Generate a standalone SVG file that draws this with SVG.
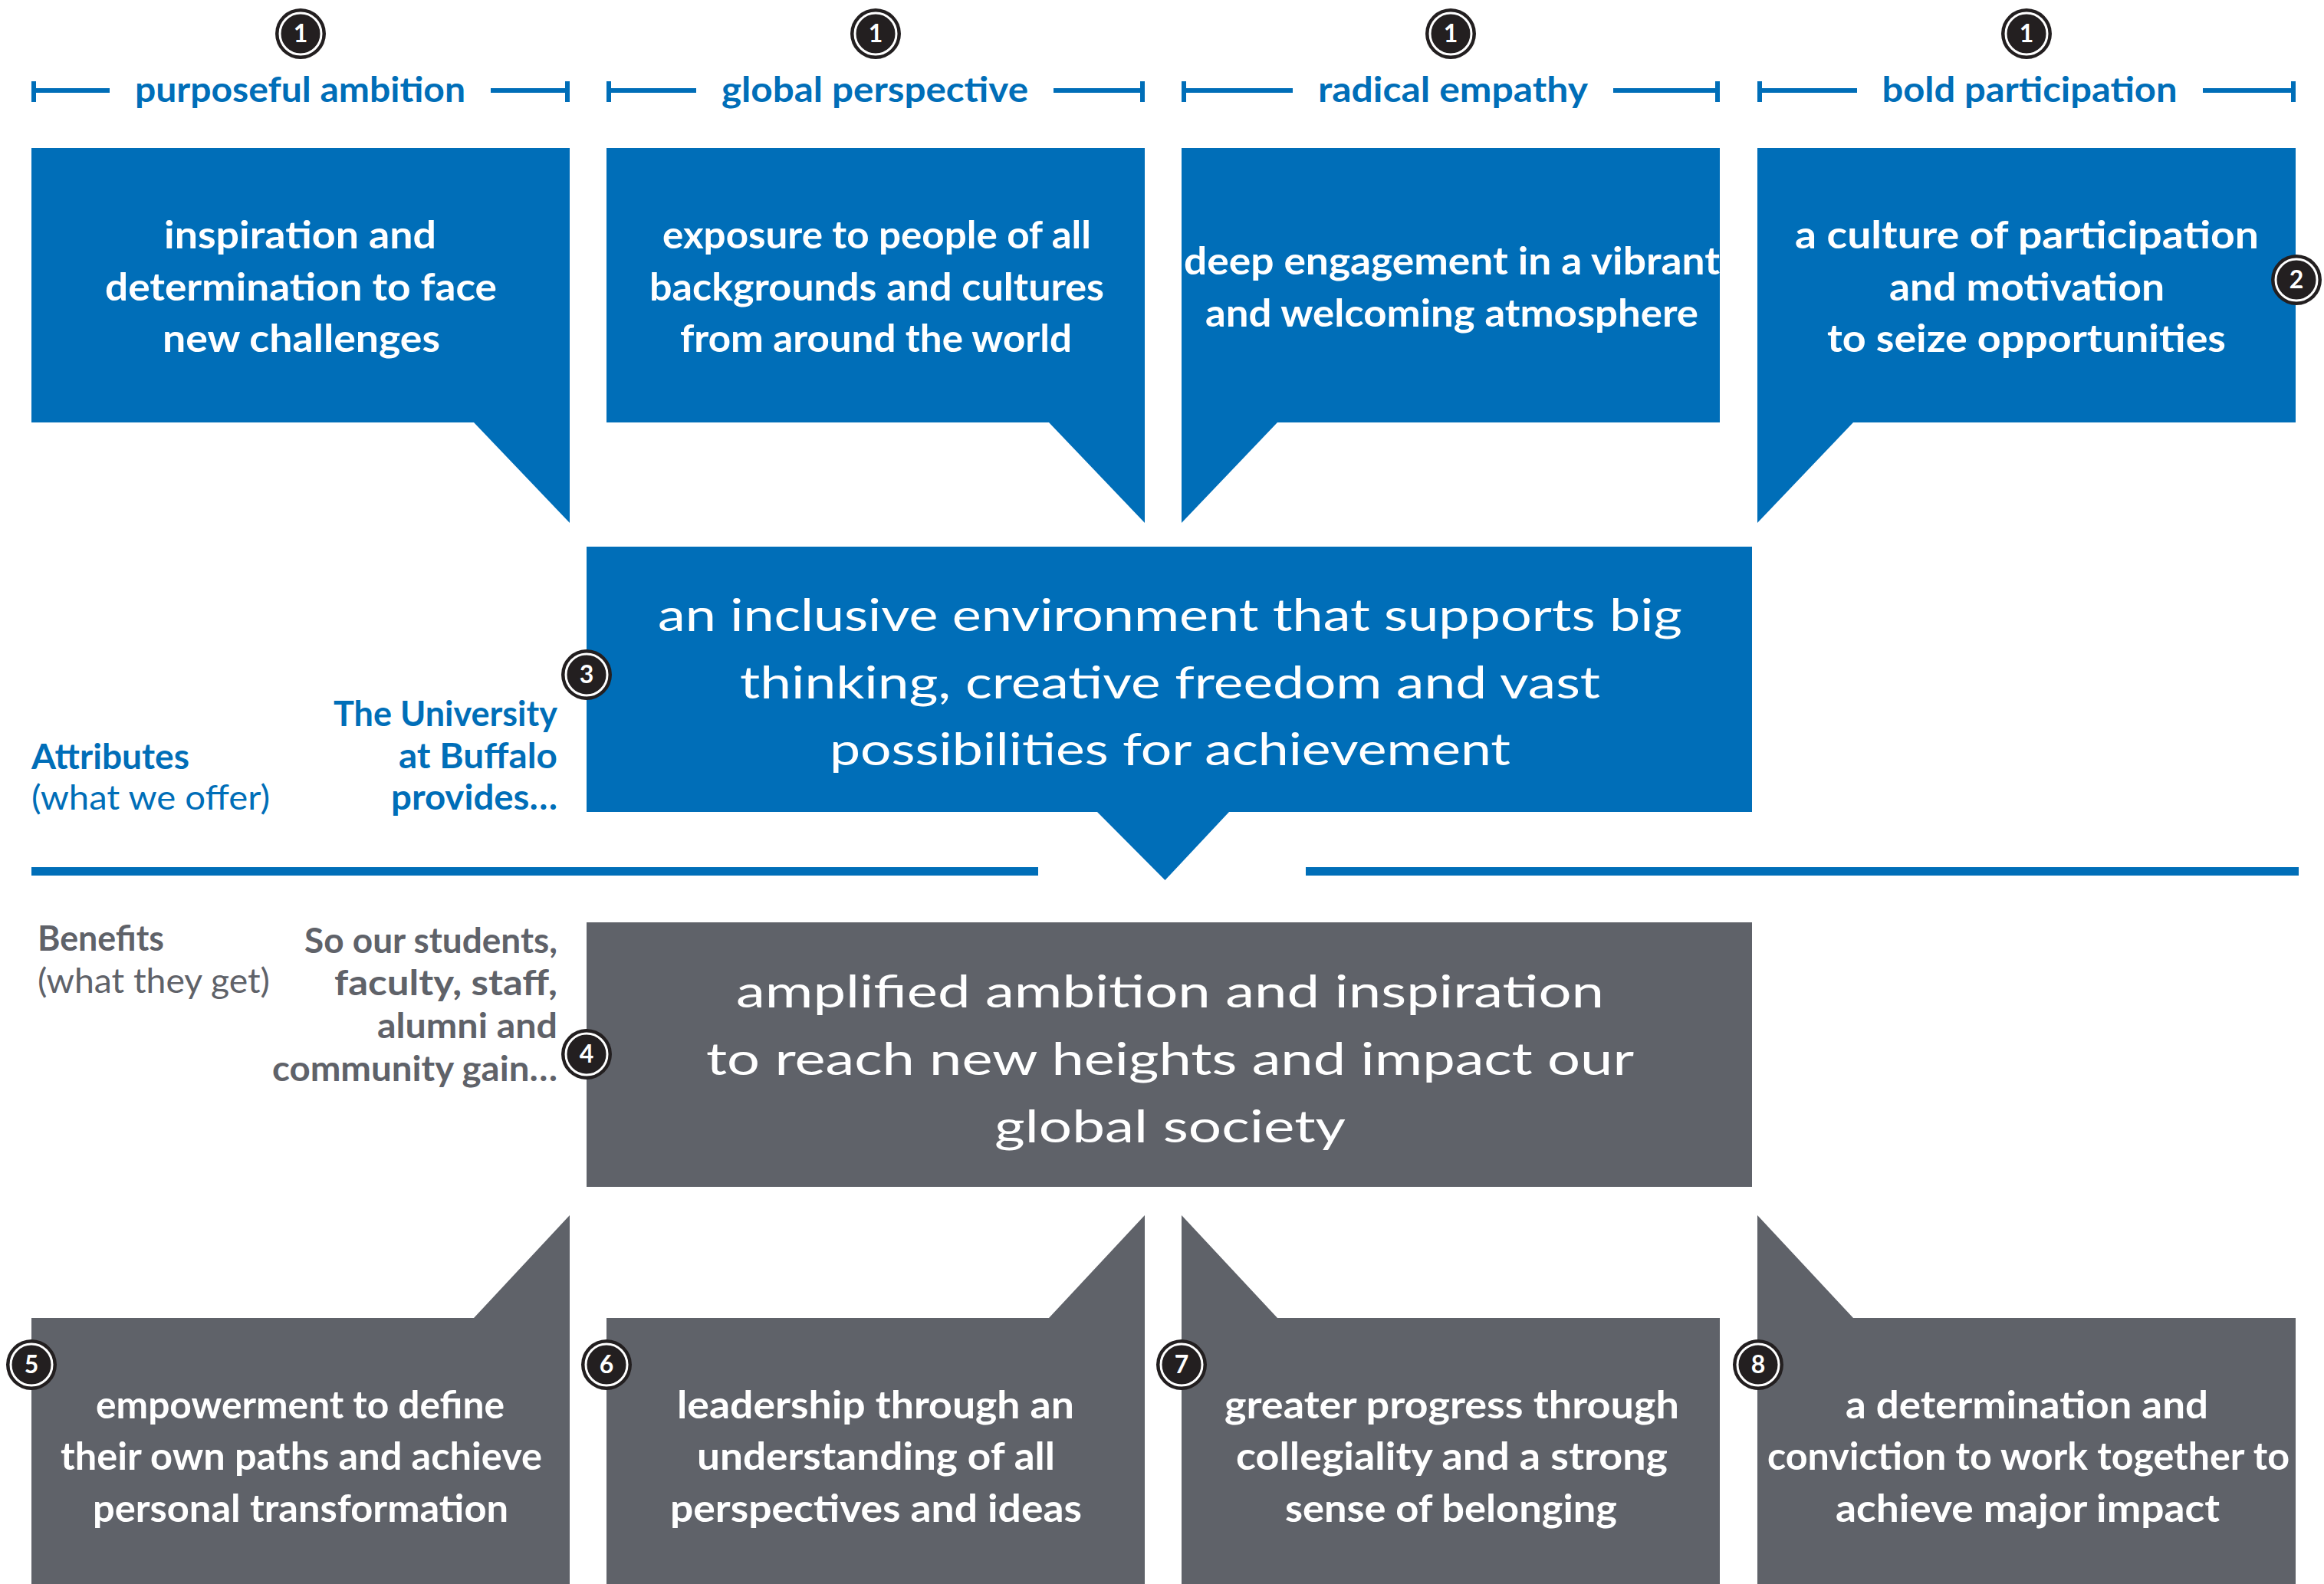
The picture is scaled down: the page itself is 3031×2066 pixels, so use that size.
<svg xmlns="http://www.w3.org/2000/svg" width="3031" height="2066" viewBox="0 0 3031 2066">
  <style>
    .blue { fill: #006eb8; }
    .grey { fill: #5f6269; }
    .t { font-family: Lato, "Noto Sans", "Liberation Sans", sans-serif; }
    .box { font-size: 49px; font-weight: 700; fill: #ffffff; text-anchor: middle; }
    .hdr { font-size: 46px; font-weight: 700; fill: #006eb8; text-anchor: middle; }
    .big { font-size: 59px; font-weight: 400; fill: #ffffff; text-anchor: middle; }
    .lab-b { font-size: 45px; font-weight: 700; }
    .lab-r { font-size: 45px; font-weight: 400; }
    .fb { fill: #006eb8; }
    .fg { fill: #5f6269; }
    .end { text-anchor: end; }
    .rule { stroke: #006eb8; stroke-width: 6; fill: none; }
    .badge-o { fill: #231f20; }
    .badge-i { fill: none; stroke: #ffffff; stroke-width: 3; }
    .badge-t { font-family: Lato, "Liberation Sans", sans-serif; font-size: 32px; font-weight: 700; fill: #ffffff; text-anchor: middle; }
  </style>
  <defs>
    <g id="badge">
      <circle class="badge-o" r="33"/>
      <circle class="badge-i" r="27"/>
    </g>
  </defs>
  <rect width="3031" height="2066" fill="#ffffff"/>

  <!-- header rules and section dividers -->
  <g id="connectors">
    <path class="rule" d="M44,106 V133 M41,118 H143 M640,118 H743 M740,106 V133"/>
    <path class="rule" d="M794,106 V133 M791,118 H908 M1374,118 H1493 M1490,106 V133"/>
    <path class="rule" d="M1544,106 V133 M1541,118 H1686 M2104,118 H2243 M2240,106 V133"/>
    <path class="rule" d="M2295,106 V133 M2292,118 H2422 M2873,118 H2994 M2991,106 V133"/>
    <rect class="blue" x="41" y="1131" width="1313" height="11"/>
    <rect class="blue" x="1703" y="1131" width="1295" height="11"/>
  </g>

  <!-- column headings -->
  <g id="heading-1">
    <use href="#badge" x="392" y="44"/>
    <text class="badge-t" x="392" y="55">1</text>
    <text class="t hdr" x="391.5" y="133" textLength="431" lengthAdjust="spacingAndGlyphs">purposeful ambition</text>
  </g>
  <g id="heading-2">
    <use href="#badge" x="1142" y="44"/>
    <text class="badge-t" x="1142" y="55">1</text>
    <text class="t hdr" x="1141" y="133" textLength="400" lengthAdjust="spacingAndGlyphs">global perspective</text>
  </g>
  <g id="heading-3">
    <use href="#badge" x="1892" y="44"/>
    <text class="badge-t" x="1892" y="55">1</text>
    <text class="t hdr" x="1895" y="133" textLength="352" lengthAdjust="spacingAndGlyphs">radical empathy</text>
  </g>
  <g id="heading-4">
    <use href="#badge" x="2643" y="44"/>
    <text class="badge-t" x="2643" y="55">1</text>
    <text class="t hdr" x="2647" y="133" textLength="385" lengthAdjust="spacingAndGlyphs">bold participation</text>
  </g>

  <!-- attribute callouts -->
  <g id="attr-1">
    <path class="blue" d="M41,193 H743 V682 L618,551 H41 Z"/>
    <text class="t box" x="391.5" y="324" textLength="355" lengthAdjust="spacingAndGlyphs">inspiration and</text>
    <text class="t box" x="392.5" y="392" textLength="511" lengthAdjust="spacingAndGlyphs">determination to face</text>
    <text class="t box" x="393" y="459" textLength="362" lengthAdjust="spacingAndGlyphs">new challenges</text>
  </g>
  <g id="attr-2">
    <path class="blue" d="M791,193 H1493 V682 L1368,551 H791 Z"/>
    <text class="t box" x="1143.5" y="324" textLength="559" lengthAdjust="spacingAndGlyphs">exposure to people of all</text>
    <text class="t box" x="1143.5" y="392" textLength="593" lengthAdjust="spacingAndGlyphs">backgrounds and cultures</text>
    <text class="t box" x="1142.5" y="459" textLength="511" lengthAdjust="spacingAndGlyphs">from around the world</text>
  </g>
  <g id="attr-3">
    <path class="blue" d="M1541,193 H2243 V551 H1666 L1541,682 Z"/>
    <text class="t box" x="1893.5" y="358" textLength="699" lengthAdjust="spacingAndGlyphs">deep engagement in a vibrant</text>
    <text class="t box" x="1893.5" y="426" textLength="643" lengthAdjust="spacingAndGlyphs">and welcoming atmosphere</text>
  </g>
  <g id="attr-4">
    <path class="blue" d="M2292,193 H2994 V551 H2417 L2292,682 Z"/>
    <text class="t box" x="2643.5" y="324" textLength="605" lengthAdjust="spacingAndGlyphs">a culture of participation</text>
    <text class="t box" x="2643.5" y="392" textLength="359" lengthAdjust="spacingAndGlyphs">and motivation</text>
    <text class="t box" x="2643" y="459" textLength="520" lengthAdjust="spacingAndGlyphs">to seize opportunities</text>
    <use href="#badge" x="2995" y="365"/>
    <text class="badge-t" x="2995" y="376">2</text>
  </g>

  <!-- left-hand row labels -->
  <g id="label-attributes">
    <text class="t lab-b fb" x="41" y="1003" textLength="206" lengthAdjust="spacingAndGlyphs">Attributes</text>
    <text class="t lab-r fb" x="41" y="1056" textLength="311" lengthAdjust="spacingAndGlyphs">(what we offer)</text>
    <text class="t lab-b fb end" x="727" y="947" textLength="292" lengthAdjust="spacingAndGlyphs">The University</text>
    <text class="t lab-b fb end" x="727" y="1002" textLength="207" lengthAdjust="spacingAndGlyphs">at Buffalo</text>
    <text class="t lab-b fb end" x="727" y="1056" textLength="217" lengthAdjust="spacingAndGlyphs">provides…</text>
  </g>
  <g id="label-benefits">
    <text class="t lab-b fg" x="49" y="1240" textLength="165" lengthAdjust="spacingAndGlyphs">Benefits</text>
    <text class="t lab-r fg" x="49" y="1295" textLength="303" lengthAdjust="spacingAndGlyphs">(what they get)</text>
    <text class="t lab-b fg end" x="727" y="1243" textLength="330" lengthAdjust="spacingAndGlyphs">So our students,</text>
    <text class="t lab-b fg end" x="727" y="1298" textLength="291" lengthAdjust="spacingAndGlyphs">faculty, staff,</text>
    <text class="t lab-b fg end" x="727" y="1354" textLength="235" lengthAdjust="spacingAndGlyphs">alumni and</text>
    <text class="t lab-b fg end" x="727" y="1410" textLength="372" lengthAdjust="spacingAndGlyphs">community gain…</text>
  </g>

  <!-- central statement: what the university provides -->
  <g id="provides">
    <path class="blue" d="M765,713 H2285 V1059 H1603 L1519.5,1148 L1431,1059 H765 Z"/>
    <text class="t big" x="1526" y="823" textLength="1336" lengthAdjust="spacingAndGlyphs">an inclusive environment that supports big</text>
    <text class="t big" x="1526" y="911" textLength="1122" lengthAdjust="spacingAndGlyphs">thinking, creative freedom and vast</text>
    <text class="t big" x="1526" y="998" textLength="888" lengthAdjust="spacingAndGlyphs">possibilities for achievement</text>
    <use href="#badge" x="765" y="880"/>
    <text class="badge-t" x="765" y="891">3</text>
  </g>

  <!-- central statement: what people gain -->
  <g id="gain">
    <rect class="grey" x="765" y="1203" width="1520" height="345"/>
    <text class="t big" x="1526" y="1314" textLength="1132" lengthAdjust="spacingAndGlyphs">amplified ambition and inspiration</text>
    <text class="t big" x="1526" y="1402" textLength="1210" lengthAdjust="spacingAndGlyphs">to reach new heights and impact our</text>
    <text class="t big" x="1526" y="1490" textLength="458" lengthAdjust="spacingAndGlyphs">global society</text>
    <use href="#badge" x="765" y="1375"/>
    <text class="badge-t" x="765" y="1386">4</text>
  </g>

  <!-- benefit callouts -->
  <g id="benefit-1">
    <path class="grey" d="M41,1719 H618 L743,1585 V2066 H41 Z"/>
    <text class="t box" x="391.5" y="1850" textLength="533" lengthAdjust="spacingAndGlyphs">empowerment to define</text>
    <text class="t box" x="393" y="1917" textLength="628" lengthAdjust="spacingAndGlyphs">their own paths and achieve</text>
    <text class="t box" x="392" y="1985" textLength="542" lengthAdjust="spacingAndGlyphs">personal transformation</text>
    <use href="#badge" x="41" y="1780"/>
    <text class="badge-t" x="41" y="1791">5</text>
  </g>
  <g id="benefit-2">
    <path class="grey" d="M791,1719 H1368 L1493,1585 V2066 H791 Z"/>
    <text class="t box" x="1142" y="1850" textLength="518" lengthAdjust="spacingAndGlyphs">leadership through an</text>
    <text class="t box" x="1142.5" y="1917" textLength="467" lengthAdjust="spacingAndGlyphs">understanding of all</text>
    <text class="t box" x="1142.5" y="1985" textLength="537" lengthAdjust="spacingAndGlyphs">perspectives and ideas</text>
    <use href="#badge" x="791" y="1780"/>
    <text class="badge-t" x="791" y="1791">6</text>
  </g>
  <g id="benefit-3">
    <path class="grey" d="M1541,1585 L1666,1719 H2243 V2066 H1541 Z"/>
    <text class="t box" x="1893.5" y="1850" textLength="593" lengthAdjust="spacingAndGlyphs">greater progress through</text>
    <text class="t box" x="1893.5" y="1917" textLength="563" lengthAdjust="spacingAndGlyphs">collegiality and a strong</text>
    <text class="t box" x="1892.5" y="1985" textLength="433" lengthAdjust="spacingAndGlyphs">sense of belonging</text>
    <use href="#badge" x="1541" y="1780"/>
    <text class="badge-t" x="1541" y="1791">7</text>
  </g>
  <g id="benefit-4">
    <path class="grey" d="M2292,1585 L2417,1719 H2994 V2066 H2292 Z"/>
    <text class="t box" x="2643.5" y="1850" textLength="473" lengthAdjust="spacingAndGlyphs">a determination and</text>
    <text class="t box" x="2645.5" y="1917" textLength="681" lengthAdjust="spacingAndGlyphs">conviction to work together to</text>
    <text class="t box" x="2644.5" y="1985" textLength="501" lengthAdjust="spacingAndGlyphs">achieve major impact</text>
    <use href="#badge" x="2293" y="1780"/>
    <text class="badge-t" x="2293" y="1791">8</text>
  </g>
</svg>
